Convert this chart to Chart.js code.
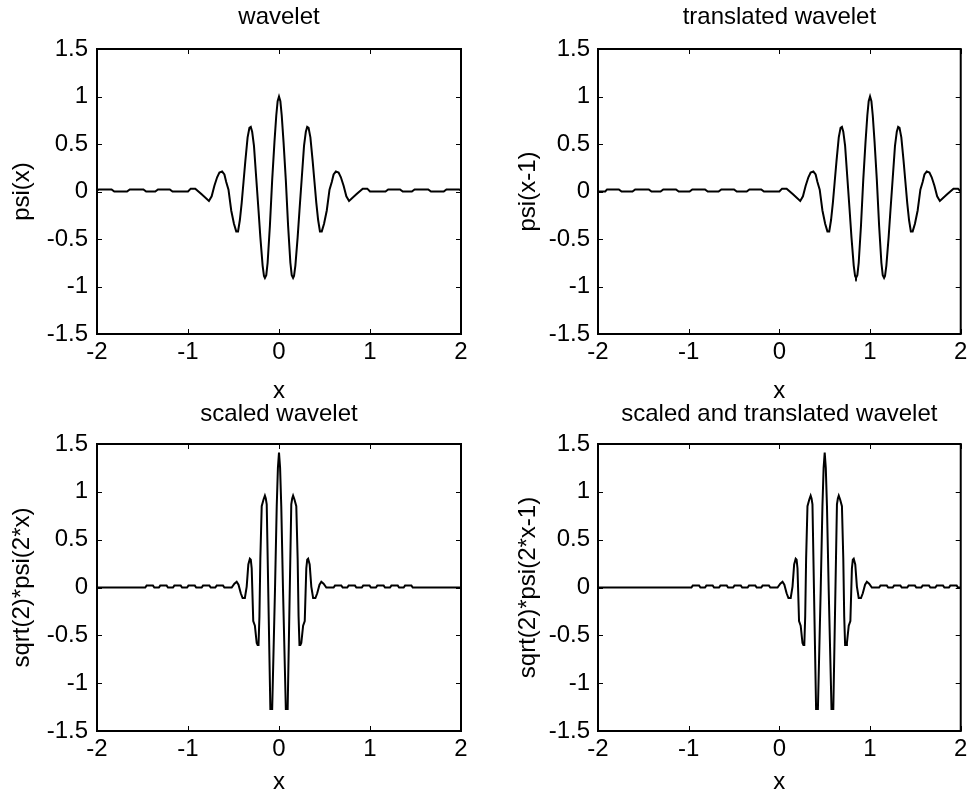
<!DOCTYPE html>
<html>
<head>
<meta charset="utf-8">
<script src="https://cdn.jsdelivr.net/npm/chart.js@4.4.1/dist/chart.umd.min.js"></script>
<style>
html,body{margin:0;padding:0;background:#fff;}
body{width:971px;height:798px;position:relative;overflow:hidden;}
canvas{position:absolute;}
</style>
</head>
<body>
<canvas id="pA" width="485" height="410" style="left:0px;top:0px;width:485px;height:410px"></canvas>
<canvas id="pB" width="486" height="410" style="left:485px;top:0px;width:486px;height:410px"></canvas>
<canvas id="pC" width="485" height="402" style="left:0px;top:396px;width:485px;height:402px"></canvas>
<canvas id="pD" width="486" height="402" style="left:485px;top:396px;width:486px;height:402px"></canvas>
<script>
// ---- tick labels ----
const xTicks = [-2, -1, 0, 1, 2];
const xTickLabels = ['-2', '-1', '0', '1', '2'];
const yTicks = [-1.5, -1, -0.5, 0, 0.5, 1, 1.5];
const yTickLabels = ['-1.5', '-1', '-0.5', '0', '0.5', '1', '1.5'];

// ---- panel texts ----
const titles = ['wavelet', 'translated wavelet', 'scaled wavelet', 'scaled and translated wavelet'];
const yLabels = ['psi(x)', 'psi(x-1)', 'sqrt(2)*psi(2*x)', 'sqrt(2)*psi(2*x-1)'];
const xLabel = 'x';

// ---- series: wavelet psi(x) ----
const waveletX = [-2.00,-1.98,-1.84,-1.81,-1.67,-1.64,-1.49,-1.46,-1.36,-1.33,-1.20,-1.17,-1.00,-0.97,-0.92,-0.85,
  -0.77,-0.74,-0.71,-0.68,-0.655,-0.625,-0.60,-0.58,-0.555,-0.525,-0.495,-0.47,-0.45,-0.43,-0.41,-0.39,-0.37,-0.345,-0.325,-0.31,-0.295,-0.275,-0.25,-0.225,-0.205,-0.18,-0.165,-0.155,-0.14,-0.125,-0.10,-0.075,-0.05,-0.03,-0.015,
  0,
  0.015,0.03,0.05,0.075,0.10,0.125,0.14,0.155,0.165,0.18,0.205,0.225,0.25,0.275,0.295,0.31,0.325,0.345,0.37,0.39,0.41,0.43,0.45,0.47,0.495,0.525,0.555,0.58,0.60,0.625,0.655,0.68,0.71,0.74,0.77,
  0.85,0.92,0.97,1.00,1.17,1.20,1.33,1.36,1.46,1.49,1.64,1.67,1.81,1.84,1.98,2.00];
const waveletY = [0.01,0.022,0.022,0,0,0.022,0.022,0,0,0.022,0.022,0,0,0.03,0.03,-0.03,
  -0.10,-0.05,0.06,0.15,0.20,0.21,0.18,0.10,0.02,-0.20,-0.34,-0.42,-0.42,-0.30,-0.12,0.10,0.32,0.57,0.67,0.68,0.63,0.48,0.14,-0.20,-0.48,-0.78,-0.89,-0.91,-0.88,-0.75,-0.36,0.12,0.52,0.80,0.95,
  1.00,
  0.95,0.80,0.52,0.12,-0.36,-0.75,-0.88,-0.91,-0.89,-0.78,-0.48,-0.20,0.14,0.48,0.63,0.68,0.67,0.57,0.32,0.10,-0.12,-0.30,-0.42,-0.42,-0.34,-0.20,0.02,0.10,0.18,0.21,0.20,0.15,0.06,-0.05,-0.10,
  -0.03,0.03,0.03,0,0,0.022,0.022,0,0,0.022,0.022,0,0,0.022,0.022,0.01];

// ---- series: translated wavelet psi(x-1) ----
const translatedX = [-2.00,-1.92,-1.90,-1.77,-1.74,-1.62,-1.59,-1.44,-1.41,-1.31,-1.28,-1.14,-1.11,-0.99,-0.96,-0.82,-0.79,-0.67,-0.64,-0.50,-0.47,-0.36,-0.33,-0.20,-0.17,0.00,0.03,0.08,0.15,
  0.23,0.26,0.29,0.32,0.345,0.375,0.40,0.42,0.445,0.475,0.505,0.53,0.55,0.57,0.59,0.61,0.63,0.655,0.675,0.69,0.705,0.725,0.75,0.775,0.795,0.82,0.835,0.845,0.86,0.875,0.90,0.925,0.95,0.97,0.985,
  1.00,
  1.015,1.03,1.05,1.075,1.10,1.125,1.14,1.155,1.165,1.18,1.205,1.225,1.25,1.275,1.295,1.31,1.325,1.345,1.37,1.39,1.41,1.43,1.45,1.47,1.495,1.525,1.555,1.58,1.60,1.625,1.655,1.68,1.71,1.74,1.77,
  1.85,1.92,1.97,2.00];
const translatedY = [0,0,0.022,0.022,0,0,0.022,0.022,0,0,0.022,0.022,0,0,0.022,0.022,0,0,0.022,0.022,0,0,0.022,0.022,0,0,0.03,0.03,-0.03,
  -0.10,-0.05,0.06,0.15,0.20,0.21,0.18,0.10,0.02,-0.20,-0.34,-0.42,-0.42,-0.30,-0.12,0.10,0.32,0.57,0.67,0.68,0.63,0.48,0.14,-0.20,-0.48,-0.78,-0.89,-0.91,-0.88,-0.75,-0.36,0.12,0.52,0.80,0.95,
  1.00,
  0.95,0.80,0.52,0.12,-0.36,-0.75,-0.88,-0.91,-0.89,-0.78,-0.48,-0.20,0.14,0.48,0.63,0.68,0.67,0.57,0.32,0.10,-0.12,-0.30,-0.42,-0.42,-0.34,-0.20,0.02,0.10,0.18,0.21,0.20,0.15,0.06,-0.05,-0.10,
  -0.03,0.03,0.03,0];

// ---- series: scaled wavelet sqrt(2)*psi(2x) ----
const scaledX = [-2.00,-1.47,-1.455,-1.385,-1.37,-1.32,-1.305,-1.235,-1.22,-1.165,-1.15,-1.08,-1.065,-1.01,-0.995,-0.925,-0.91,-0.85,-0.835,-0.765,-0.75,-0.70,-0.685,-0.615,-0.60,-0.52,
  -0.49,-0.465,-0.445,-0.42,-0.40,-0.375,-0.355,-0.337,-0.32,-0.31,-0.30,-0.283,-0.265,-0.245,-0.235,-0.225,-0.215,-0.205,-0.19,-0.17,-0.155,-0.145,-0.135,-0.095,-0.075,-0.044,-0.025,-0.012,
  0,
  0.012,0.025,0.044,0.075,0.095,0.135,0.145,0.155,0.17,0.19,0.205,0.215,0.225,0.235,0.245,0.265,0.283,0.30,0.31,0.32,0.337,0.355,0.375,0.40,0.42,0.445,0.465,0.49,
  0.52,0.60,0.615,0.685,0.70,0.75,0.765,0.835,0.85,0.91,0.925,0.995,1.01,1.065,1.08,1.15,1.165,1.22,1.235,1.305,1.32,1.37,1.385,1.455,1.47,2.00];
const scaledY = [0,0,0.02,0.02,0,0,0.02,0.02,0,0,0.02,0.02,0,0,0.02,0.02,0,0,0.02,0.02,0,0,0.02,0.02,0,0,
  0.04,0.06,0.03,-0.06,-0.11,-0.11,0.01,0.24,0.30,0.29,0.20,-0.35,-0.40,-0.58,-0.60,-0.60,-0.30,0.30,0.85,0.92,0.96,0.93,0.87,-1.27,-1.27,-0.02,0.85,1.25,
  1.41,
  1.25,0.85,-0.02,-1.27,-1.27,0.87,0.93,0.96,0.92,0.85,0.30,-0.30,-0.60,-0.60,-0.58,-0.40,-0.35,0.20,0.29,0.30,0.24,0.01,-0.11,-0.11,-0.06,0.03,0.06,0.04,
  0,0,0.02,0.02,0,0,0.02,0.02,0,0,0.02,0.02,0,0,0.02,0.02,0,0,0.02,0.02,0,0,0.02,0.02,0,0];

// ---- series: scaled and translated wavelet sqrt(2)*psi(2x-1) ----
const scaledShiftX = [-2.00,-0.97,-0.955,-0.885,-0.87,-0.82,-0.805,-0.735,-0.72,-0.665,-0.65,-0.58,-0.565,-0.51,-0.495,-0.425,-0.41,-0.35,-0.335,-0.265,-0.25,-0.20,-0.185,-0.115,-0.10,-0.02,
  0.01,0.035,0.055,0.08,0.10,0.125,0.145,0.163,0.18,0.19,0.20,0.217,0.235,0.255,0.265,0.275,0.285,0.295,0.31,0.33,0.345,0.355,0.365,0.405,0.425,0.456,0.475,0.488,
  0.50,
  0.512,0.525,0.544,0.575,0.595,0.635,0.645,0.655,0.67,0.69,0.705,0.715,0.725,0.735,0.745,0.765,0.783,0.80,0.81,0.82,0.837,0.855,0.875,0.90,0.92,0.945,0.965,0.99,
  1.02,1.10,1.115,1.185,1.20,1.25,1.265,1.335,1.35,1.41,1.425,1.495,1.51,1.565,1.58,1.65,1.665,1.72,1.735,1.805,1.82,1.87,1.885,1.955,1.97,2.00];
const scaledShiftY = [0,0,0.02,0.02,0,0,0.02,0.02,0,0,0.02,0.02,0,0,0.02,0.02,0,0,0.02,0.02,0,0,0.02,0.02,0,0,
  0.04,0.06,0.03,-0.06,-0.11,-0.11,0.01,0.24,0.30,0.29,0.20,-0.35,-0.40,-0.58,-0.60,-0.60,-0.30,0.30,0.85,0.92,0.96,0.93,0.87,-1.27,-1.27,-0.02,0.85,1.25,
  1.41,
  1.25,0.85,-0.02,-1.27,-1.27,0.87,0.93,0.96,0.92,0.85,0.30,-0.30,-0.60,-0.60,-0.58,-0.40,-0.35,0.20,0.29,0.30,0.24,0.01,-0.11,-0.11,-0.06,0.03,0.06,0.04,
  0,0,0.02,0.02,0,0,0.02,0.02,0,0,0.02,0.02,0,0,0.02,0.02,0,0,0.02,0.02,0,0,0.02,0.02,0,0];

// ---- rendering ----
const FAMILY = '"Liberation Sans", Arial, Helvetica, sans-serif';
const FONT = {family: FAMILY, size: 24, weight: 'normal', lineHeight: 1.2};
Chart.defaults.font.family = FAMILY;
Chart.defaults.color = '#000';

const TICK_LEN = 5;
const boxPlugin = {
  id: 'matlabBox',
  afterDatasetsDraw(chart) {
    const {ctx, chartArea: a, scales} = chart;
    const sx = scales.x, sy = scales.y;
    ctx.save();
    ctx.strokeStyle = '#000';
    ctx.lineWidth = 1;
    ctx.beginPath();
    sx.ticks.forEach(t => {
      const p = Math.round(sx.getPixelForValue(t.value)) + 0.5;
      ctx.moveTo(p, a.bottom); ctx.lineTo(p, a.bottom - TICK_LEN);
      ctx.moveTo(p, a.top); ctx.lineTo(p, a.top + TICK_LEN);
    });
    sy.ticks.forEach(t => {
      const p = Math.round(sy.getPixelForValue(t.value)) + 0.5;
      ctx.moveTo(a.left, p); ctx.lineTo(a.left + TICK_LEN, p);
      ctx.moveTo(a.right, p); ctx.lineTo(a.right - TICK_LEN, p);
    });
    ctx.stroke();
    ctx.lineWidth = 2;
    ctx.strokeRect(a.left, a.top, a.right - a.left, a.bottom - a.top);
    ctx.restore();
  }
};

function makePanel(id, xs, ys, idx, L) {
  if (xs.length !== ys.length) console.error('length mismatch', id, xs.length, ys.length);
  const pts = xs.map((x, i) => ({x: x, y: ys[i]}));
  new Chart(document.getElementById(id), {
    type: 'line',
    data: {datasets: [{data: pts, borderColor: '#000', borderWidth: 2, pointRadius: 0, tension: 0, fill: false}]},
    options: {
      responsive: false, animation: false, devicePixelRatio: 1,
      layout: {padding: {left: 0, right: L.padRight, top: 0, bottom: 0}},
      plugins: {
        legend: {display: false}, tooltip: {enabled: false},
        title: {display: true, fullSize: false, text: titles[idx], color: '#000', font: FONT,
                padding: {top: L.titleTop, bottom: L.titleBottom}}
      },
      scales: {
        x: {
          type: 'linear', min: -2, max: 2,
          grid: {display: false, drawTicks: false}, border: {display: false},
          afterBuildTicks: s => { s.ticks = xTicks.map(v => ({value: v})); },
          ticks: {color: '#000', font: FONT, padding: L.xTickPad, autoSkip: false, maxRotation: 0,
                  callback: v => xTickLabels[xTicks.indexOf(v)]},
          title: {display: true, text: xLabel, color: '#000', font: FONT, padding: {top: 0, bottom: L.xTitleBottom}},
          afterFit: s => { s.height = L.xHeight; }
        },
        y: {
          type: 'linear', min: -1.5, max: 1.5,
          grid: {display: false, drawTicks: false}, border: {display: false},
          afterBuildTicks: s => { s.ticks = yTicks.map(v => ({value: v})); },
          ticks: {color: '#000', font: FONT, padding: L.yTickPad, autoSkip: false,
                  callback: v => yTickLabels[yTicks.indexOf(v)]},
          title: {display: true, text: yLabels[idx], color: '#000', font: FONT, padding: {top: L.yTitleTop, bottom: 0}},
          afterFit: s => { s.width = L.yWidth; }
        }
      }
    },
    plugins: [boxPlugin]
  });
}

const topL = {padRight: 24, yWidth: 97, xHeight: 76, titleTop: 2.6, titleBottom: 17.6, xTickPad: 3.6, xTitleBottom: 4.2, yTitleTop: 7.6, yTickPad: 9};
const topR = {padRight: 8, yWidth: 113, xHeight: 76, titleTop: 2.6, titleBottom: 17.6, xTickPad: 3.6, xTitleBottom: 4.2, yTitleTop: 28.6, yTickPad: 8};
const botL = {padRight: 24, yWidth: 97, xHeight: 67, titleTop: 3.6, titleBottom: 15.6, xTickPad: 3.6, xTitleBottom: 1.2, yTitleTop: 7.6, yTickPad: 9};
const botR = {padRight: 8, yWidth: 113, xHeight: 67, titleTop: 3.6, titleBottom: 15.6, xTickPad: 3.6, xTitleBottom: 1.2, yTitleTop: 28.6, yTickPad: 8};

makePanel('pA', waveletX, waveletY, 0, topL);
makePanel('pB', translatedX, translatedY, 1, topR);
makePanel('pC', scaledX, scaledY, 2, botL);
makePanel('pD', scaledShiftX, scaledShiftY, 3, botR);
</script>
</body>
</html>
